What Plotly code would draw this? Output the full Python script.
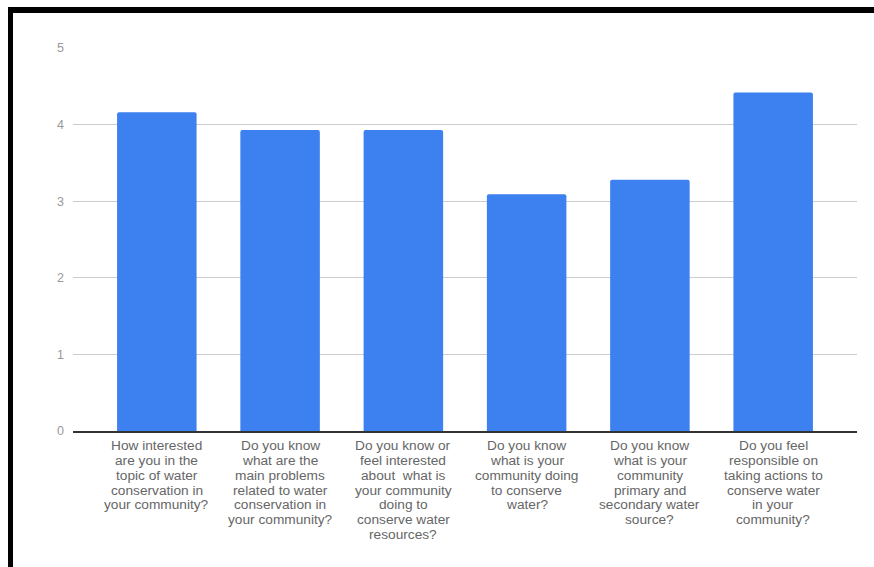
import plotly.graph_objects as go

# ---- data ----
label_lines = [
    ["How interested", "are you in the", "topic of water", "conservation in", "your community?"],
    ["Do you know", "what are the", "main problems", "related to water", "conservation in", "your community?"],
    ["Do you know or", "feel interested", "about  what is", "your community", "doing to", "conserve water", "resources?"],
    ["Do you know", "what is your", "community doing", "to conserve", "water?"],
    ["Do you know", "what is your", "community", "primary and", "secondary water", "source?"],
    ["Do you feel", "responsible on", "taking actions to", "conserve water", "in your", "community?"],
]
categories = [" ".join(l) for l in label_lines]
values = [4.16, 3.93, 3.93, 3.09, 3.28, 4.42]
y_ticks = [0, 1, 2, 3, 4, 5]

W, H = 874, 567
ML, MR, MT, MB = 73, 17, 48, 136
PW, PH = W - ML - MR, H - MT - MB

fig = go.Figure()
fig.add_trace(go.Bar(
    x=categories, y=values,
    marker=dict(color="#3d80f0", line=dict(width=0), cornerradius=2),
    width=0.645,
    hoverinfo="y",
))

annotations = []
for cat, lines in zip(categories, label_lines):
    for j, line in enumerate(lines):
        annotations.append(dict(
            x=cat, xref="x", y=0, yref="paper",
            text=line, showarrow=False,
            yanchor="middle", xanchor="center",
            yshift=-(14.3 + j * 14.9),
            font=dict(family="Liberation Sans, Arial, sans-serif", size=13.7, color="#666666"),
        ))


def px_x(px):
    return (px - ML) / PW


def px_y(py):
    return (H - MB - py) / PH


shapes = [
    dict(type="rect", xref="paper", yref="paper",
         x0=px_x(8), x1=px_x(880), y0=px_y(13), y1=px_y(7),
         fillcolor="black", line=dict(width=0), layer="above"),
    dict(type="rect", xref="paper", yref="paper",
         x0=px_x(8), x1=px_x(13), y0=px_y(575), y1=px_y(7),
         fillcolor="black", line=dict(width=0), layer="above"),
]

fig.update_layout(
    width=W, height=H,
    margin=dict(l=ML, r=MR, t=MT, b=MB, pad=0),
    paper_bgcolor="white", plot_bgcolor="white",
    showlegend=False,
    annotations=annotations,
    shapes=shapes,
    font=dict(family="Liberation Sans, Arial, sans-serif"),
)
fig.update_xaxes(
    range=[-0.68, 5.68],
    showticklabels=False,
    showgrid=False,
    showline=True, linecolor="#333333", linewidth=1.5,
    zeroline=False, fixedrange=True,
)
fig.update_yaxes(
    range=[0, 5],
    tickvals=y_ticks,
    showgrid=True, gridcolor="#cccccc", gridwidth=1,
    zeroline=False, showline=False,
    ticklabelstandoff=8,
    tickfont=dict(family="Liberation Sans, Arial, sans-serif", size=12.5, color="#999999"),
    fixedrange=True,
)

fig.write_html(
    "out.html",
    config={"displayModeBar": False},
    post_script="document.body.style.margin='0';document.body.style.overflow='hidden';",
)
